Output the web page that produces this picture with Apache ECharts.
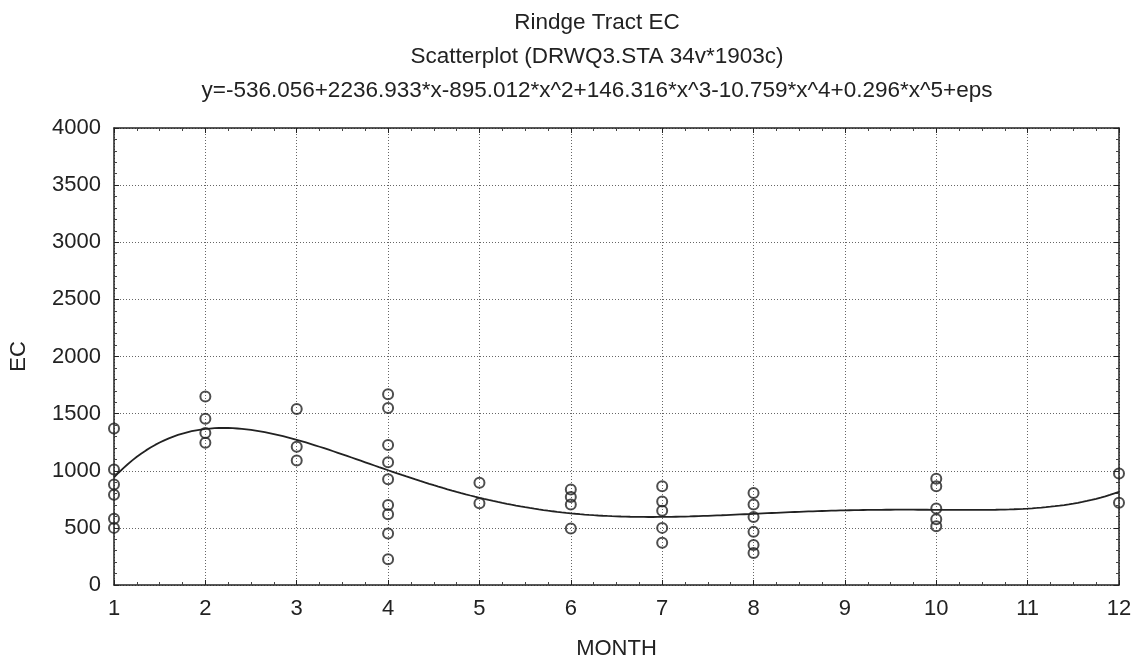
<!DOCTYPE html>
<html>
<head>
<meta charset="utf-8">
<style>
  html, body { margin: 0; padding: 0; background: #fff; }
  #chart { width: 1139px; height: 666px; }
</style>
<script src="https://cdn.jsdelivr.net/npm/echarts@6/dist/echarts.min.js"></script>
</head>
<body>
<div id="chart"></div>
<script>
// Observed EC readings, grouped by month
const months = [1, 2, 3, 4, 5, 6, 7, 8, 10, 12];
const ecByMonth = [
  [1370, 1010, 880, 790, 580, 500],
  [1650, 1455, 1330, 1245],
  [1540, 1210, 1090],
  [1670, 1550, 1225, 1075, 925, 700, 620, 450, 225],
  [895, 715],
  [835, 770, 705, 495],
  [865, 730, 650, 500, 370],
  [805, 705, 595, 465, 350, 280],
  [930, 865, 670, 575, 515],
  [975, 720]
];

// Fitted 5th-order polynomial coefficients (constant term first)
const fitCoefs = [-536.056, 2236.933, -895.012, 146.316, -10.759, 0.296];

const titleText = 'Rindge Tract EC';
const subtitleText = 'Scatterplot (DRWQ3.STA 34v*1903c)';
const equationText = 'y=-536.056+2236.933*x-895.012*x^2+146.316*x^3-10.759*x^4+0.296*x^5+eps';

const xTicks = { min: 1, max: 12, interval: 1 };
const yTicks = { min: 0, max: 4000, interval: 500 };

const points = [];
months.forEach((m, i) => ecByMonth[i].forEach(v => points.push([m, v])));

// Sample the fitted curve across the month range
const fitLine = [];
for (let k = 0; k <= 220; k++) {
  const x = xTicks.min + k * (xTicks.max - xTicks.min) / 220;
  let y = 0;
  for (let p = fitCoefs.length - 1; p >= 0; p--) y = y * x + fitCoefs[p];
  fitLine.push([x, y]);
}

const FONT = 'Liberation Sans, Arial, Helvetica, sans-serif';
const INK = '#222';
const TITLE_SIZE = 22.5;

const gridLine = { show: true, lineStyle: { color: '#666', width: 1, type: [1, 2] } };

const chart = echarts.init(document.getElementById('chart'), null, { renderer: 'canvas' });
chart.setOption({
  backgroundColor: '#fff',
  animation: false,
  title: [
    { text: titleText, left: 592, top: 6, textAlign: 'center',
      textStyle: { fontFamily: FONT, fontSize: TITLE_SIZE, fontWeight: 'normal', color: INK } },
    { text: subtitleText, left: 592, top: 40, textAlign: 'center',
      textStyle: { fontFamily: FONT, fontSize: TITLE_SIZE, fontWeight: 'normal', color: INK } },
    { text: equationText, left: 592, top: 74, textAlign: 'center',
      textStyle: { fontFamily: FONT, fontSize: TITLE_SIZE, fontWeight: 'normal', color: INK } }
  ],
  grid: { left: 114, right: 20, top: 128, bottom: 81, containLabel: false },
  xAxis: [
    {
      type: 'value', min: xTicks.min, max: xTicks.max, interval: xTicks.interval,
      name: 'MONTH', nameLocation: 'middle', nameGap: 53,
      nameTextStyle: { fontFamily: FONT, fontSize: 22, color: INK },
      axisLine: { show: true, onZero: false, lineStyle: { color: '#222', width: 1.5 } },
      axisTick: { show: true, inside: true, length: 5, lineStyle: { color: '#222' } },
      minorTick: { show: true, splitNumber: 4, length: 3, lineStyle: { color: '#444' } },
      axisLabel: { fontFamily: FONT, fontSize: 22, color: INK, margin: 13 },
      splitLine: gridLine
    },
    {
      type: 'value', position: 'top', min: xTicks.min, max: xTicks.max, interval: xTicks.interval,
      axisLine: { show: true, onZero: false, lineStyle: { color: '#222', width: 1.5 } },
      axisTick: { show: true, inside: true, length: 5, lineStyle: { color: '#222' } },
      minorTick: { show: true, splitNumber: 4, length: 3, lineStyle: { color: '#444' } },
      axisLabel: { show: false }, splitLine: { show: false }
    }
  ],
  yAxis: [
    {
      type: 'value', min: yTicks.min, max: yTicks.max, interval: yTicks.interval,
      name: 'EC', nameLocation: 'middle', nameGap: 84,
      nameTextStyle: { fontFamily: FONT, fontSize: 22, color: INK },
      axisLine: { show: true, onZero: false, lineStyle: { color: '#222', width: 1.5 } },
      axisTick: { show: true, inside: true, length: 5, lineStyle: { color: '#222' } },
      minorTick: { show: true, splitNumber: 5, length: 3, lineStyle: { color: '#444' } },
      axisLabel: { fontFamily: FONT, fontSize: 22, color: INK, margin: 13,
                   formatter: v => String(v) },
      splitLine: gridLine
    },
    {
      type: 'value', position: 'right', min: yTicks.min, max: yTicks.max, interval: yTicks.interval,
      axisLine: { show: true, onZero: false, lineStyle: { color: '#222', width: 1.5 } },
      axisTick: { show: true, inside: true, length: 5, lineStyle: { color: '#222' } },
      minorTick: { show: true, splitNumber: 5, length: 3, lineStyle: { color: '#444' } },
      axisLabel: { show: false }, splitLine: { show: false }
    }
  ],
  series: [
    {
      name: 'EC', type: 'scatter', data: points,
      symbol: 'circle', symbolSize: 10,
      itemStyle: { color: 'rgba(255,255,255,0)', borderColor: '#222', borderWidth: 2 },
      z: 3
    },
    {
      name: 'Fit', type: 'line', data: fitLine, showSymbol: false, smooth: false,
      lineStyle: { color: '#222', width: 1.8 },
      z: 4
    }
  ]
});
</script>
</body>
</html>
